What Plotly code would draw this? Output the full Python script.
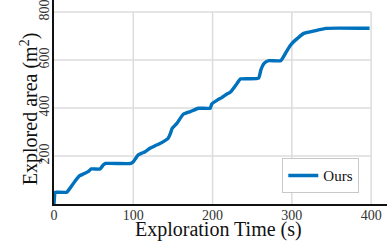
import plotly.graph_objects as go

time_s = [0, 1.5, 3, 16, 20, 26, 32, 37, 43, 47, 58, 62, 65, 97, 100, 103, 106, 110, 115, 121, 127,
          133, 138, 144, 147, 149, 155, 163, 172, 182, 197, 199, 206, 212, 216, 223, 231, 235, 258,
          261, 265, 271, 286, 292, 298, 301, 307, 315, 328, 343, 398]
area = [0, 48, 49, 49, 65, 93, 117, 125, 135, 146, 146, 162, 169, 169, 176, 190, 204, 211, 218, 232, 242,
        251, 260, 274, 295, 315, 336, 374, 385, 399, 399, 417, 433, 444, 454, 468, 503, 521, 524,
        560, 586, 597, 597, 628, 660, 672, 690, 711, 721, 732, 732]
series_name = "Ours"
x_ticks = [0, 100, 200, 300, 400]
y_ticks = [200, 400, 600, 800]

FONT = "Liberation Serif, Times New Roman, serif"
GRID = "#dcdcdc"

fig = go.Figure()
fig.add_trace(go.Scatter(x=time_s, y=area, mode="lines", name=series_name,
                         line=dict(color="#0072bd", width=3.4, shape="spline", smoothing=0.4)))

shapes = []
for xv in x_ticks[1:]:
    shapes.append(dict(type="line", xref="x", yref="y", x0=xv, x1=xv, y0=0, y1=y_ticks[-1],
                       line=dict(color=GRID, width=1.5), layer="below"))
for yv in y_ticks:
    shapes.append(dict(type="line", xref="x", yref="y", x0=0, x1=x_ticks[-1], y0=yv, y1=yv,
                       line=dict(color=GRID, width=1.5), layer="below"))

annotations = [
    dict(text="Exploration Time (s)", xref="paper", yref="paper", x=0.495, y=-0.125,
         xanchor="center", yanchor="middle", showarrow=False,
         font=dict(family=FONT, size=20, color="#111")),
    dict(text="Explored area (m<sup>2</sup>)", xref="paper", yref="paper", x=-0.075, y=0.465,
         xanchor="center", yanchor="middle", showarrow=False, textangle=-90,
         font=dict(family=FONT, size=20, color="#111")),
]

fig.update_layout(
    width=392, height=241,
    margin=dict(l=54, r=5, t=0, b=37),
    paper_bgcolor="white", plot_bgcolor="white",
    font=dict(family=FONT, color="#222"),
    shapes=shapes,
    annotations=annotations,
    showlegend=True,
    legend=dict(x=0.685, y=0.054, xanchor="left", yanchor="bottom",
                bgcolor="white", bordercolor="#c8c8c8", borderwidth=1.2,
                font=dict(family=FONT, size=15, color="#111")),
    xaxis=dict(range=[0, 420], tickvals=x_ticks, showgrid=False, zeroline=False,
               showline=True, linecolor="#111", linewidth=1.5, ticks="", automargin=False,
               ticklabelstandoff=-3, ticklabeloverflow="allow",
               tickfont=dict(size=14, color="#333")),
    yaxis=dict(range=[0, 850], tickvals=y_ticks, showgrid=False, zeroline=False,
               showline=True, linecolor="#111", linewidth=1.5, ticks="", tickangle=-90,
               automargin=False, ticklabelstandoff=-2, ticklabeloverflow="allow",
               tickfont=dict(size=14, color="#333")),
)

fig.write_html("out.html", config={"displayModeBar": False},
               post_script="document.body.style.margin='0';document.body.style.overflow='hidden';")
